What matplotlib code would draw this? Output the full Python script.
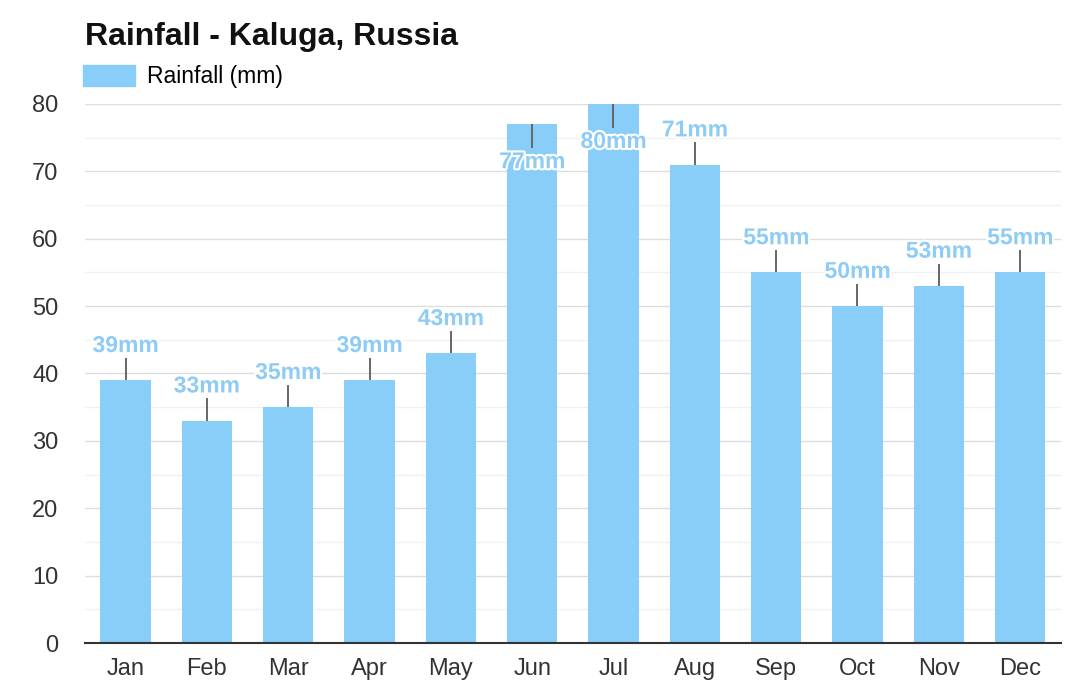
import matplotlib.pyplot as plt
import matplotlib.patheffects as pe
from matplotlib.patches import Patch
from matplotlib.ticker import MultipleLocator

plt.rcParams['font.family'] = ['Liberation Sans', 'DejaVu Sans']

months = ["Jan", "Feb", "Mar", "Apr", "May", "Jun",
          "Jul", "Aug", "Sep", "Oct", "Nov", "Dec"]
rainfall = [39, 33, 35, 39, 43, 77, 80, 71, 55, 50, 53, 55]

bar_color = "#89cdf9"
label_color = "#8ecbf5"

fig = plt.figure(figsize=(10.88, 6.85), dpi=100)
ax = fig.add_axes([0.078, 0.0613, 0.897, 0.7869])

x = range(len(months))
ax.bar(x, rainfall, width=0.62, color=bar_color, zorder=2)

# connector lines and value labels
for i, v in enumerate(rainfall):
    if v >= 75:
        # no room above the top: line goes down into the bar, label below it
        ax.vlines(i, v - 3.6, v, color="#666666", lw=1.4, zorder=3)
        dy = -27
    else:
        ax.vlines(i, v, v + 3.3, color="#666666", lw=1.4, zorder=3)
        dy = 25
    ax.annotate(f"{v}mm", xy=(i, v), xytext=(0, dy), textcoords="offset points",
                ha="center", va="center", fontsize=16.5, fontweight="bold",
                color=label_color, zorder=4,
                path_effects=[pe.withStroke(linewidth=3, foreground="white")])

ax.set_xlim(-0.5, len(months) - 0.5)
ax.set_ylim(0, 80)
ax.set_xticks(list(x))
ax.set_xticklabels(months)
ax.yaxis.set_major_locator(MultipleLocator(10))
ax.yaxis.set_minor_locator(MultipleLocator(5))
ax.grid(axis="y", which="major", color="#dddddd", lw=1, zorder=0)
ax.grid(axis="y", which="minor", color="#f0f0f0", lw=1, zorder=0)
ax.tick_params(axis="both", which="both", length=0, labelsize=17, colors="#333333")
ax.tick_params(axis="y", pad=19)
ax.tick_params(axis="x", pad=11)
for s in ["top", "right", "left"]:
    ax.spines[s].set_visible(False)
ax.spines["bottom"].set_color("#333333")
ax.spines["bottom"].set_linewidth(1.5)
ax.spines["bottom"].set_zorder(5)

fig.text(0.078, 0.946, "Rainfall - Kaluga, Russia", fontsize=23, fontweight="bold",
         color="#111111", va="center", ha="left")
fig.legend(handles=[Patch(color=bar_color, label="Rainfall (mm)")],
           loc="center left", bbox_to_anchor=(0.0763, 0.888), frameon=False,
           borderpad=0, borderaxespad=0,
           fontsize=16.5, handlelength=2.27, handleheight=1.0, handletextpad=0.52)

fig.savefig("out.png", dpi=100)
